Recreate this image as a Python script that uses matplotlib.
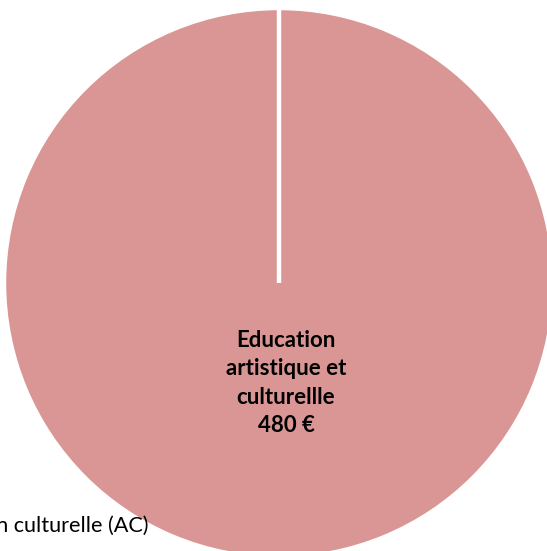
import matplotlib
matplotlib.use("Agg")
import matplotlib.pyplot as plt

categories = ["Education\nartistique et\nculturellle", "Action culturelle (AC)"]
values = [480, 0]
value_labels = ["480 €", "0 €"]
colors = ["#D99694", "#8EB4E3"]

W, H = 547, 551
fig = plt.figure(figsize=(W / 100, H / 100), dpi=100)
ax = fig.add_axes([0, 0, 1, 1])

cx, cy, r = 279, 268, 275
wedges, _ = ax.pie(values, colors=colors, radius=r, center=(cx, cy),
                   startangle=90, counterclock=False,
                   wedgeprops=dict(edgecolor="white", linewidth=3.2))
ax.set_xlim(0, W)
ax.set_ylim(0, H)
ax.set_aspect("equal")
ax.axis("off")

ax.text(cx + 7, cy - 100, f"{categories[0]}\n{value_labels[0]}", ha="center", va="center",
        fontsize=16, fontweight="bold", family="Lato", color="#000000", linespacing=1.42)
ax.text(148, 25, categories[1], ha="right", va="center",
        fontsize=15.6, family="Lato", color="#000000")

fig.savefig("out.png", dpi=100)
